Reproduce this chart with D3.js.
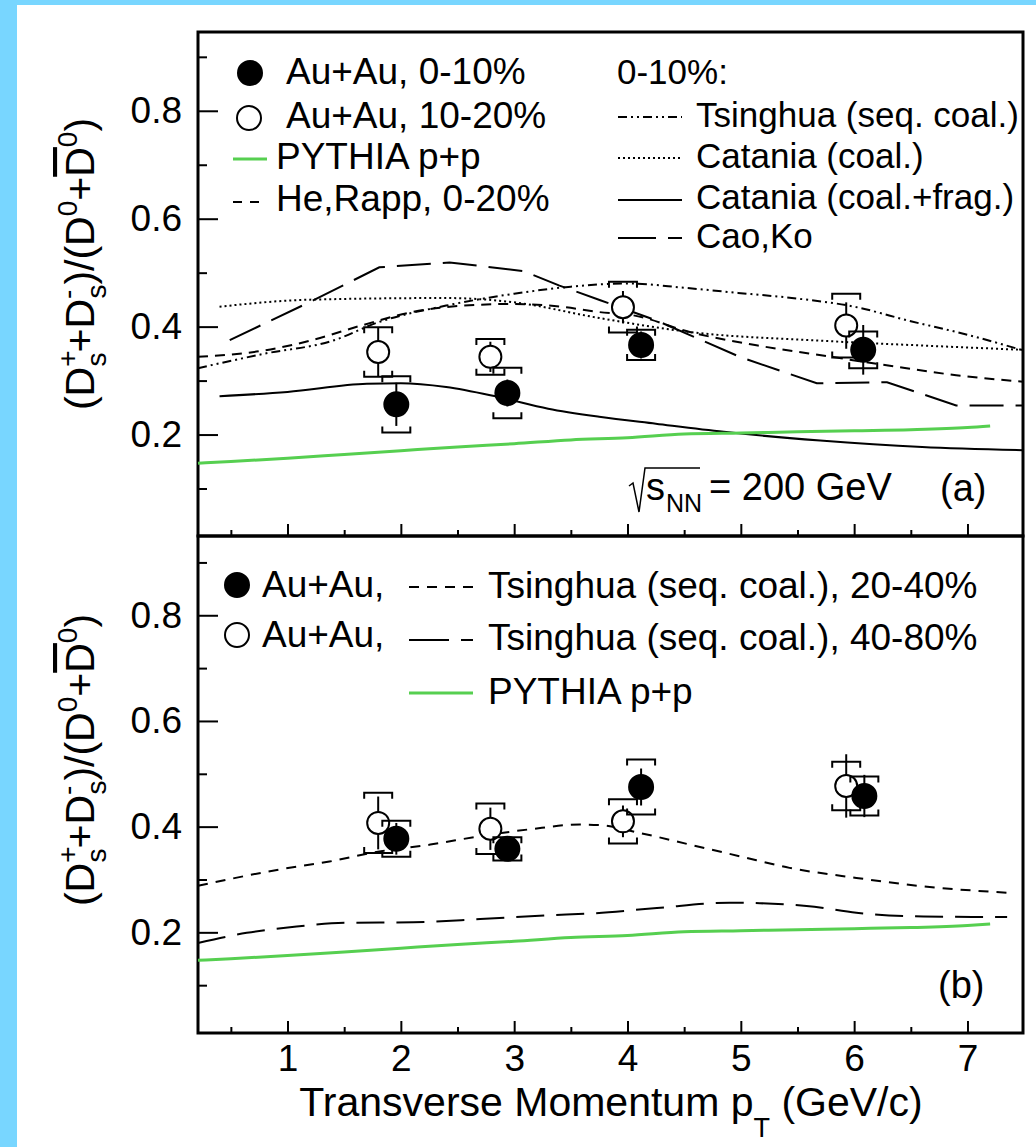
<!DOCTYPE html>
<html>
<head>
<meta charset="utf-8">
<script src="https://cdn.jsdelivr.net/npm/d3@7"></script>
<style>
  html, body { margin: 0; padding: 0; background: #fff; }
  svg text { font-family: "Liberation Sans", Arial, Helvetica, sans-serif; fill: #000; }
</style>
</head>
<body>
<div id="chart"></div>
<script>
// ---- data: panel (a) ----
const ptFilledA = [1.96, 2.94, 4.12, 6.08];
const rFilledA = [0.256, 0.277, 0.366, 0.357];
const statFilledA = [0.040, 0.025, 0.025, 0.046];
const sysFilledA = [0.052, 0.047, 0.028, 0.034];

const ptOpenA = [1.80, 2.79, 3.96, 5.93];
const rOpenA = [0.353, 0.344, 0.436, 0.402];
const statOpenA = [0.045, 0.028, 0.030, 0.043];
const sysOpenA = [0.046, 0.033, 0.047, 0.059];

const pythiaPt = [0.21, 0.5, 1.0, 1.5, 2.0, 2.5, 3.0, 3.5, 4.0, 4.5, 5.0, 5.5, 6.0, 6.5, 7.0, 7.2];
const pythiaR = [0.147, 0.150, 0.156, 0.163, 0.170, 0.177, 0.183, 0.190, 0.194, 0.201, 0.203, 0.205, 0.207, 0.209, 0.213, 0.216];

const cataniaFragPt = [0.4, 1.0, 1.7, 2.0, 2.4, 2.85, 3.3, 3.75, 4.25, 4.85, 5.7, 6.6, 7.49];
const cataniaFragR = [0.271, 0.279, 0.294, 0.295, 0.288, 0.270, 0.248, 0.233, 0.220, 0.205, 0.189, 0.177, 0.171];

const cataniaCoalPt = [0.4, 1.2, 2.4, 3.0, 3.75, 4.55, 5.7, 6.6, 7.49];
const cataniaCoalR = [0.437, 0.450, 0.453, 0.445, 0.416, 0.390, 0.374, 0.365, 0.357];

const tsinghuaPt = [0.21, 0.8, 1.4, 1.8, 2.4, 3.0, 3.5, 4.0, 4.5, 5.0, 5.5, 6.0, 6.5, 7.0, 7.49];
const tsinghuaR = [0.323, 0.350, 0.374, 0.408, 0.439, 0.461, 0.474, 0.480, 0.472, 0.462, 0.452, 0.437, 0.410, 0.385, 0.356];

const heRappPt = [0.21, 0.8, 1.2, 1.65, 2.1, 2.55, 3.0, 3.45, 3.75, 4.05, 4.55, 5.15, 5.8, 6.3, 6.9, 7.49];
const heRappR = [0.344, 0.356, 0.374, 0.402, 0.427, 0.439, 0.442, 0.436, 0.427, 0.421, 0.390, 0.365, 0.344, 0.328, 0.310, 0.298];

const caoKoPt = [0.49, 1.23, 1.81, 2.43, 3.08, 3.4, 3.76, 4.26, 4.99, 5.67, 6.29, 6.9, 7.49];
const caoKoR = [0.375, 0.449, 0.510, 0.519, 0.503, 0.476, 0.449, 0.411, 0.344, 0.295, 0.297, 0.254, 0.254];

// ---- data: panel (b) ----
const ptFilledB = [1.96, 2.94, 4.12, 6.09];
const rFilledB = [0.377, 0.358, 0.475, 0.458];
const statFilledB = [0.030, 0.020, 0.035, 0.040];
const sysFilledB = [0.034, 0.022, 0.052, 0.037];

const ptOpenB = [1.80, 2.79, 3.96, 5.93];
const rOpenB = [0.407, 0.396, 0.410, 0.477];
const statOpenB = [0.050, 0.040, 0.030, 0.060];
const sysOpenB = [0.057, 0.048, 0.042, 0.046];

const ts2040Pt = [0.21, 0.93, 1.37, 1.81, 2.26, 2.7, 3.14, 3.58, 3.76, 4.11, 4.55, 4.99, 5.43, 6.02, 6.61, 7.35];
const ts2040R = [0.288, 0.319, 0.334, 0.353, 0.366, 0.382, 0.395, 0.404, 0.403, 0.388, 0.366, 0.344, 0.322, 0.303, 0.287, 0.275];

const ts4080Pt = [0.21, 0.64, 1.08, 1.52, 2.11, 2.7, 3.29, 3.7, 4.26, 4.9, 5.58, 6.02, 6.61, 7.35];
const ts4080R = [0.180, 0.199, 0.211, 0.218, 0.219, 0.225, 0.232, 0.236, 0.246, 0.256, 0.250, 0.237, 0.230, 0.229];

const xMajor = [1, 2, 3, 4, 5, 6, 7];
const xMinor = [0.5, 1.5, 2.5, 3.5, 4.5, 5.5, 6.5];
const yMajor = [0.2, 0.4, 0.6, 0.8];
const yMinor = [0.1, 0.3, 0.5, 0.7, 0.9];

// ---- layout ----
const W = 1036, H = 1147;
const left = 198, right = 1023;
const green = "#56cf50";

const svg = d3.select("#chart").append("svg")
    .attr("width", W)
    .attr("height", H);

svg.append("rect").attr("width", W).attr("height", H).attr("fill", "#fff");
// light blue page edge
svg.append("rect").attr("x", 0).attr("y", 0).attr("width", W).attr("height", 5).attr("fill", "#78d6ff");
svg.append("rect").attr("x", 0).attr("y", 0).attr("width", 17).attr("height", H).attr("fill", "#78d6ff");

const x = d3.scaleLinear().domain([0.21, 7.49]).range([left, right]);
const yA = d3.scaleLinear().domain([0.012, 0.946]).range([536, 32]);
const yB = d3.scaleLinear().domain([0.0095, 0.95]).range([1033, 536]);

const zip = (a, b) => a.map((v, i) => [v, b[i]]);

function drawAxes(y, top, bottom, showLabels) {
    // x axis, ticks pointing inward
    const gx = svg.append("g").attr("transform", `translate(0,${bottom})`);
    gx.call(d3.axisBottom(x).tickValues(xMajor).tickSizeInner(-12).tickSizeOuter(0)
        .tickPadding(12).tickFormat(showLabels ? d3.format("d") : ""));
    gx.append("g").call(d3.axisBottom(x).tickValues(xMinor).tickSizeInner(-6).tickSizeOuter(0).tickFormat(""));
    gx.selectAll(".domain").remove();
    gx.selectAll("line").attr("stroke", "#000").attr("stroke-width", 2);
    gx.selectAll("text").style("font-size", "37px").attr("fill", "#000");

    const gy = svg.append("g").attr("transform", `translate(${left},0)`);
    gy.call(d3.axisLeft(y).tickValues(yMajor).tickSizeInner(-20).tickSizeOuter(0)
        .tickPadding(16).tickFormat(d3.format(".1f")));
    gy.append("g").call(d3.axisLeft(y).tickValues(yMinor).tickSizeInner(-9).tickSizeOuter(0).tickFormat(""));
    gy.selectAll(".domain").remove();
    gy.selectAll("line").attr("stroke", "#000").attr("stroke-width", 2);
    gy.selectAll("text").style("font-size", "37px").attr("fill", "#000");

    svg.append("rect")
        .attr("x", left).attr("y", top)
        .attr("width", right - left).attr("height", bottom - top)
        .attr("fill", "none").attr("stroke", "#000").attr("stroke-width", 3);
}

function curve(y, pts, vals, dash, color, width, smooth) {
    svg.append("path")
        .datum(zip(pts, vals))
        .attr("fill", "none")
        .attr("stroke", color)
        .attr("stroke-width", width)
        .attr("stroke-dasharray", dash)
        .attr("d", d3.line()
            .x(d => x(d[0]))
            .y(d => y(d[1]))
            .curve(smooth ? d3.curveMonotoneX : d3.curveLinear));
}

function points(y, pts, vals, stat, sys, filled) {
    const g = svg.append("g");
    const data = pts.map((p, i) => ({ p, v: vals[i], st: stat[i], sy: sys[i] }));
    // systematic brackets
    data.forEach(d => {
        const cx = x(d.p);
        const yt = y(d.v + d.sy), yb = y(d.v - d.sy);
        g.append("path")
            .attr("d", `M${cx - 14},${yt + 6}V${yt}H${cx + 14}V${yt + 6}M${cx - 14},${yb - 6}V${yb}H${cx + 14}V${yb - 6}`)
            .attr("fill", "none").attr("stroke", "#000").attr("stroke-width", 2);
    });
    g.selectAll("line.stat")
        .data(data)
        .join("line")
        .attr("x1", d => x(d.p)).attr("x2", d => x(d.p))
        .attr("y1", d => y(d.v + d.st)).attr("y2", d => y(d.v - d.st))
        .attr("stroke", "#000").attr("stroke-width", 2);
    g.selectAll("circle")
        .data(data)
        .join("circle")
        .attr("cx", d => x(d.p)).attr("cy", d => y(d.v))
        .attr("r", filled ? 12 : 11)
        .attr("fill", filled ? "#000" : "#fff")
        .attr("stroke", "#000").attr("stroke-width", 2);
}

function legendLine(x1, x2, yy, dash, color, width) {
    svg.append("line").attr("x1", x1).attr("x2", x2).attr("y1", yy).attr("y2", yy)
        .attr("stroke", color).attr("stroke-width", width).attr("stroke-dasharray", dash);
}
function legendMarker(cx, cy, filled) {
    svg.append("circle").attr("cx", cx).attr("cy", cy).attr("r", 12)
        .attr("fill", filled ? "#000" : "#fff").attr("stroke", "#000").attr("stroke-width", 2);
}
function label(tx, ty, txt, size) {
    return svg.append("text").attr("x", tx).attr("y", ty).style("font-size", (size || 37) + "px").text(txt);
}

function yTitle(cx, cy) {
    const t = svg.append("text")
        .attr("transform", `translate(${cx},${cy}) rotate(-90)`)
        .attr("text-anchor", "middle")
        .style("font-size", "41px");
    t.append("tspan").text("(D");
    t.append("tspan").attr("dy", -17).style("font-size", "28px").text("+");
    t.append("tspan").attr("dx", -16).attr("dy", 29).style("font-size", "28px").text("s");
    t.append("tspan").attr("dy", -12).text("+D");
    t.append("tspan").attr("dy", -17).style("font-size", "28px").text("-");
    t.append("tspan").attr("dx", -9).attr("dy", 29).style("font-size", "28px").text("s");
    t.append("tspan").attr("dy", -12).text(")/(D");
    t.append("tspan").attr("dy", -17).style("font-size", "28px").text("0");
    t.append("tspan").attr("dy", 17).text("+");
    t.append("tspan").style("text-decoration", "overline").text("D");
    t.append("tspan").attr("dy", -17).style("font-size", "28px").text("0");
    t.append("tspan").attr("dy", 17).text(")");
}

// ---- panel (a) ----
drawAxes(yA, 32, 536, false);
curve(yA, cataniaCoalPt, cataniaCoalR, "2,3", "#000", 2, true);
curve(yA, tsinghuaPt, tsinghuaR, "9,4,2,4,2,4", "#000", 2, true);
curve(yA, heRappPt, heRappR, "10,7", "#000", 2, true);
curve(yA, caoKoPt, caoKoR, "34,12", "#000", 2, false);
curve(yA, cataniaFragPt, cataniaFragR, null, "#000", 2, true);
curve(yA, pythiaPt, pythiaR, null, green, 3, true);
points(yA, ptOpenA, rOpenA, statOpenA, sysOpenA, false);
points(yA, ptFilledA, rFilledA, statFilledA, sysFilledA, true);

legendMarker(250, 73, true);
label(286, 84, "Au+Au, 0-10%");
legendMarker(249, 118, false);
label(286, 128, "Au+Au, 10-20%");
legendLine(233, 267, 159, null, green, 3);
label(276, 169, "PYTHIA p+p");
legendLine(233, 262, 202, "9,8", "#000", 2);
label(276, 211, "He,Rapp, 0-20%");

label(617, 84, "0-10%:", 35);
legendLine(618, 682, 117, "9,4,2,4,2,4", "#000", 2);
label(696, 127, "Tsinghua (seq. coal.)", 35);
legendLine(618, 682, 158, "2,3", "#000", 2);
label(696, 168, "Catania (coal.)", 35);
legendLine(618, 682, 200, null, "#000", 2);
label(696, 209, "Catania (coal.+frag.)", 35);
legendLine(618, 682, 238, "38,12", "#000", 2);
label(696, 248, "Cao,Ko", 35);

// sqrt(s_NN) = 200 GeV
svg.append("path")
    .attr("d", "M629,486L633,483L639,512L645,468H700")
    .attr("fill", "none").attr("stroke", "#000").attr("stroke-width", 1.5);
label(646, 500, "s", 38);
label(666, 512, "NN", 25);
label(709, 500, "= 200 GeV", 38);
label(940, 501, "(a)", 38);

// ---- panel (b) ----
drawAxes(yB, 536, 1033, true);
curve(yB, ts2040Pt, ts2040R, "10,8", "#000", 2, true);
curve(yB, ts4080Pt, ts4080R, "28,12", "#000", 2, true);
curve(yB, pythiaPt, pythiaR, null, green, 3, true);
points(yB, ptOpenB, rOpenB, statOpenB, sysOpenB, false);
points(yB, ptFilledB, rFilledB, statFilledB, sysFilledB, true);

legendMarker(237, 585, true);
label(262, 597, "Au+Au,");
legendMarker(237, 635, false);
label(262, 647, "Au+Au,");
legendLine(409, 473, 587, "10,8", "#000", 2);
label(488, 598, "Tsinghua (seq. coal.), 20-40%");
legendLine(409, 473, 640, "40,12", "#000", 2);
label(488, 650, "Tsinghua (seq. coal.), 40-80%");
legendLine(409, 473, 693, null, green, 3);
label(488, 704, "PYTHIA p+p");
label(938, 998, "(b)", 38);

// ---- axis titles ----
yTitle(94, 264);
yTitle(94, 760);

const xt = svg.append("text")
    .attr("x", 611).attr("y", 1116)
    .attr("text-anchor", "middle")
    .style("font-size", "41px");
xt.append("tspan").text("Transverse Momentum p");
xt.append("tspan").attr("dy", 21).style("font-size", "27px").text("T");
xt.append("tspan").attr("dy", -21).text(" (GeV/c)");
</script>
</body>
</html>
